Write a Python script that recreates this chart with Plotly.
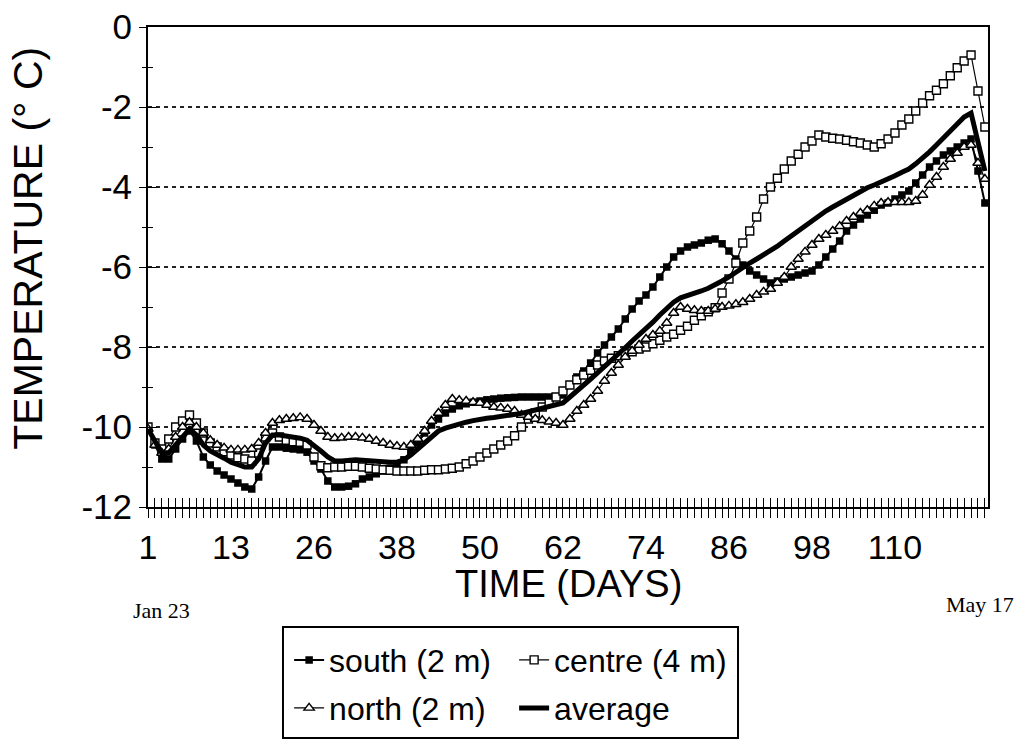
import plotly.graph_objects as go

# Sample positions along the category axis (one per day of record)
sample_idx = list(range(1, 123))

# Category ticks and their day labels
tick_pos = [1, 13, 25, 37, 49, 61, 73, 85, 97, 109]
tick_labels = ["1", "13", "26", "38", "50", "62", "74", "86", "98", "110"]

# Temperature axis ticks (plain hyphen minus signs)
temp_ticks = [-12, -10, -8, -6, -4, -2, 0]
temp_labels = ["-12", "-10", "-8", "-6", "-4", "-2", "0"]

south = [
    -10.0, -10.45, -10.8, -10.8, -10.55, -10.3, -10.1, -10.35, -10.75, -10.95,
    -11.1, -11.2, -11.3, -11.4, -11.5, -11.55, -11.25, -10.85, -10.5, -10.5,
    -10.53, -10.55, -10.57, -10.63, -10.85, -11.05, -11.35, -11.5, -11.5, -11.48,
    -11.42, -11.3, -11.25, -11.17, -11.1, -11.03, -10.95, -10.82, -10.6, -10.4,
    -10.15, -9.95, -9.8, -9.65, -9.55, -9.47, -9.42, -9.38, -9.35, -9.32,
    -9.3, -9.28, -9.27, -9.26, -9.25, -9.25, -9.25, -9.25, -9.25, -9.25,
    -9.2, -8.95, -8.75, -8.6, -8.4, -8.15, -7.95, -7.75, -7.55, -7.3,
    -7.05, -6.85, -6.7, -6.5, -6.25, -6.0, -5.75, -5.6, -5.5, -5.45,
    -5.4, -5.33, -5.3, -5.42, -5.6, -5.8, -5.95, -6.1, -6.2, -6.3,
    -6.4, -6.35, -6.3, -6.25, -6.2, -6.15, -6.1, -5.95, -5.75, -5.55,
    -5.35, -5.1, -4.95, -4.8, -4.7, -4.58, -4.45, -4.4, -4.3, -4.2,
    -4.1, -3.9, -3.7, -3.5, -3.35, -3.2, -3.1, -3.0, -2.9, -2.8,
    -3.6, -4.4,
]

centre = [
    -10.0, -10.4, -10.55, -10.3, -10.0, -9.85, -9.7, -9.9, -10.15, -10.4,
    -10.5, -10.62, -10.7, -10.77, -10.8, -10.85, -10.65, -10.25, -10.15, -10.25,
    -10.33, -10.37, -10.38, -10.45, -10.75, -10.97, -11.02, -11.0, -11.0, -10.98,
    -10.98, -11.0, -11.03, -11.05, -11.07, -11.08, -11.1, -11.1, -11.1, -11.1,
    -11.08, -11.07, -11.07, -11.05, -11.03, -11.0, -10.92, -10.85, -10.75, -10.65,
    -10.55, -10.45, -10.35, -10.22, -10.0, -9.8, -9.65, -9.5, -9.4, -9.25,
    -9.1, -8.95, -8.82, -8.7, -8.58, -8.45, -8.35, -8.28, -8.22, -8.17,
    -8.12, -8.05, -8.0, -7.92, -7.83, -7.75, -7.68, -7.58, -7.48, -7.33,
    -7.22, -7.12, -7.02, -6.65, -6.3, -5.9, -5.4, -5.1, -4.75, -4.3,
    -4.0, -3.78, -3.55, -3.35, -3.18, -3.0, -2.85, -2.7, -2.75, -2.78,
    -2.8, -2.83, -2.87, -2.9, -2.95, -3.0, -2.92, -2.8, -2.65, -2.45,
    -2.3, -2.1, -1.9, -1.72, -1.58, -1.42, -1.22, -1.02, -0.85, -0.7,
    -1.6, -2.5,
]

north = [
    -10.05, -10.45, -10.65, -10.55, -10.25, -10.0, -9.88, -10.0, -10.15, -10.33,
    -10.45, -10.52, -10.57, -10.57, -10.57, -10.55, -10.4, -10.15, -9.9, -9.83,
    -9.8, -9.78, -9.76, -9.8, -9.95, -10.1, -10.25, -10.28, -10.27, -10.25,
    -10.25, -10.27, -10.3, -10.35, -10.4, -10.45, -10.48, -10.5, -10.45, -10.3,
    -10.1, -9.85, -9.65, -9.45, -9.3, -9.33, -9.35, -9.38, -9.4, -9.45,
    -9.5, -9.52, -9.55, -9.6, -9.7, -9.75, -9.8, -9.83, -9.87, -9.9,
    -9.95, -9.8, -9.6, -9.45, -9.3, -9.1, -8.85, -8.65, -8.45, -8.25,
    -8.1, -7.95, -7.8, -7.7, -7.6, -7.4, -7.15, -7.0, -7.05, -7.08,
    -7.1, -7.1, -7.05, -7.0, -6.97, -6.93, -6.88, -6.8, -6.7, -6.62,
    -6.55, -6.4, -6.25, -6.0, -5.8, -5.62, -5.45, -5.3, -5.2, -5.1,
    -4.98, -4.85, -4.75, -4.65, -4.58, -4.47, -4.4, -4.38, -4.38, -4.38,
    -4.38, -4.35, -4.2, -3.95, -3.75, -3.5, -3.3, -3.15, -3.0, -2.95,
    -3.4, -3.8,
]

average = [
    -10.05, -10.35, -10.65, -10.65, -10.45, -10.25, -10.05, -10.2, -10.45, -10.6,
    -10.68, -10.78, -10.88, -10.95, -11.0, -11.0, -10.8, -10.4, -10.2, -10.2,
    -10.22, -10.25, -10.28, -10.33, -10.45, -10.6, -10.75, -10.85, -10.85, -10.82,
    -10.82, -10.83, -10.85, -10.85, -10.87, -10.88, -10.88, -10.82, -10.7, -10.55,
    -10.38, -10.22, -10.1, -10.03, -9.97, -9.92, -9.88, -9.84, -9.8, -9.78,
    -9.76, -9.74, -9.72, -9.7, -9.66, -9.62, -9.57, -9.53, -9.49, -9.45,
    -9.4, -9.25, -9.08, -8.95, -8.8, -8.65, -8.5, -8.33, -8.18, -8.02,
    -7.85, -7.7, -7.55, -7.38, -7.2, -7.03, -6.88, -6.77, -6.72, -6.67,
    -6.6, -6.53, -6.45, -6.35, -6.25, -6.13, -6.0, -5.9, -5.8, -5.7,
    -5.6, -5.48, -5.35, -5.22, -5.1, -4.97, -4.83, -4.72, -4.6, -4.5,
    -4.4, -4.3, -4.2, -4.1, -4.02, -3.95, -3.88, -3.8, -3.72, -3.63,
    -3.55, -3.42, -3.28, -3.12, -2.95, -2.78, -2.6, -2.42, -2.25, -2.15,
    -2.9, -3.6,
]

SANS = "Liberation Sans, Arial, sans-serif"
SERIF = "Liberation Serif, Times New Roman, serif"
INK = "black"
X_RANGE = [1, 122.45]
Y_RANGE = [-12, 0]

fig = go.Figure()

fig.add_trace(go.Scatter(
    x=sample_idx, y=south, name="south (2 m)", mode="lines+markers",
    line=dict(color=INK, width=2),
    marker=dict(symbol="square", size=7.5, color=INK),
    legend="legend",
))
fig.add_trace(go.Scatter(
    x=sample_idx, y=centre, name="centre (4 m)", mode="lines+markers",
    line=dict(color=INK, width=1.2),
    marker=dict(symbol="square", size=8, color="white", line=dict(color=INK, width=1.4)),
    legend="legend",
))
fig.add_trace(go.Scatter(
    x=sample_idx, y=north, name="north (2 m)", mode="lines+markers",
    line=dict(color=INK, width=1.2),
    marker=dict(symbol="triangle-up", size=9, color="white", line=dict(color=INK, width=1.4)),
    legend="legend2",
))
fig.add_trace(go.Scatter(
    x=sample_idx, y=average, name="average", mode="lines",
    line=dict(color=INK, width=5),
    legend="legend2",
))
# empty trace so the overlaid tick axes are instantiated
fig.add_trace(go.Scatter(x=[], y=[], xaxis="x2", yaxis="y2", showlegend=False, hoverinfo="skip"))

legend_common = dict(
    orientation="h", xanchor="left", yanchor="middle",
    font=dict(family=SANS, size=32, color=INK),
    bgcolor="rgba(0,0,0,0)", borderwidth=0, entrywidth=180,
    itemclick=False, itemdoubleclick=False,
)

fig.update_layout(
    width=1026, height=742,
    paper_bgcolor="white", plot_bgcolor="white",
    margin=dict(l=148, r=38, t=27, b=235, autoexpand=False),
    showlegend=True,
    legend=dict(x=0.168, y=-0.319, **legend_common),
    legend2=dict(x=0.168, y=-0.419, **legend_common),
    xaxis=dict(
        range=X_RANGE, tickmode="array", tickvals=tick_pos, ticktext=tick_labels,
        ticks="outside", ticklen=9, tickwidth=1, tickcolor=INK,
        minor=dict(tickmode="linear", tick0=1, dtick=1, ticks="outside", ticklen=9,
                   tickwidth=1, tickcolor=INK, showgrid=False),
        showline=True, linecolor=INK, linewidth=2, mirror=True,
        showgrid=False, zeroline=False,
        tickfont=dict(family=SANS, size=34, color=INK),
    ),
    xaxis2=dict(
        overlaying="x", anchor="y", side="bottom", range=X_RANGE,
        tickmode="linear", tick0=1, dtick=1, ticks="inside", ticklen=9,
        tickwidth=1, tickcolor=INK, showticklabels=False,
        showline=False, showgrid=False, zeroline=False,
    ),
    yaxis=dict(
        range=Y_RANGE, tickmode="array", tickvals=temp_ticks, ticktext=temp_labels,
        ticks="outside", ticklen=7, tickwidth=1, tickcolor=INK,
        minor=dict(tickmode="linear", tick0=0, dtick=1, ticks="outside", ticklen=4,
                   tickwidth=1, tickcolor=INK, showgrid=False),
        showline=True, linecolor=INK, linewidth=2, mirror=True,
        showgrid=True, gridcolor="#222", gridwidth=1.5, griddash="4px,4px",
        zeroline=False,
        tickfont=dict(family=SANS, size=35, color=INK),
    ),
    yaxis2=dict(
        overlaying="y", anchor="x", side="left", range=Y_RANGE,
        tickmode="linear", tick0=0, dtick=2, ticks="inside", ticklen=9,
        tickwidth=1, tickcolor=INK, showticklabels=False,
        minor=dict(tickmode="linear", tick0=0, dtick=1, ticks="inside", ticklen=5,
                   tickwidth=1, tickcolor=INK),
        showline=False, showgrid=False, zeroline=False,
    ),
    annotations=[
        dict(text="TEMPERATURE (° C)", xref="paper", yref="paper",
             x=-0.143, y=0.54, xanchor="center", yanchor="middle",
             textangle=-90, showarrow=False,
             font=dict(family=SANS, size=41, color=INK)),
        dict(text="TIME (DAYS)", xref="paper", yref="paper",
             x=0.5, y=-0.16, xanchor="center", yanchor="middle",
             showarrow=False, font=dict(family=SANS, size=38, color=INK)),
        dict(text="Jan 23", xref="paper", yref="paper",
             x=0.0155, y=-0.215, xanchor="center", yanchor="middle",
             showarrow=False, font=dict(family=SERIF, size=22, color=INK)),
        dict(text="May 17", xref="paper", yref="paper",
             x=0.9905, y=-0.204, xanchor="center", yanchor="middle",
             showarrow=False, font=dict(family=SERIF, size=22, color=INK)),
    ],
    shapes=[
        dict(type="rect", xref="paper", yref="paper",
             x0=0.1607, x1=0.7024, y0=-0.481, y1=-0.25,
             line=dict(color=INK, width=2), fillcolor="rgba(0,0,0,0)", layer="above"),
    ],
)

fig.write_html("out.html")
